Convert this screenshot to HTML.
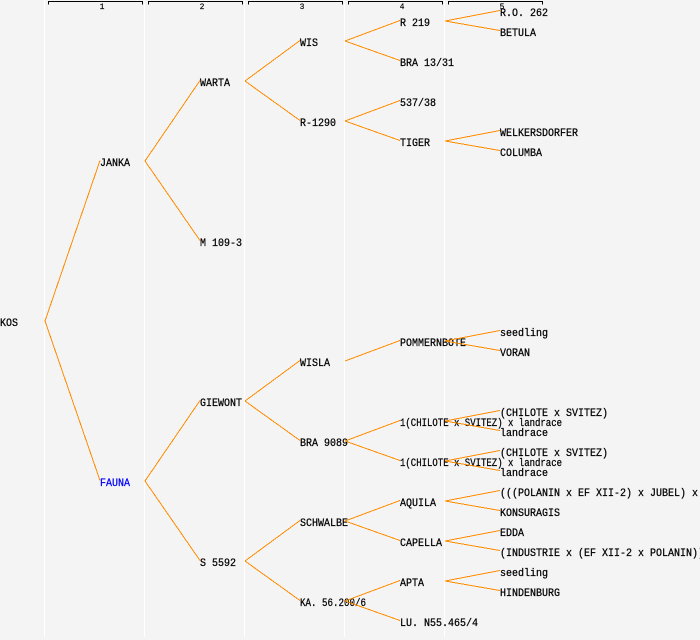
<!DOCTYPE html>
<html><head><meta charset="utf-8">
<style>
html,body{margin:0;padding:0;background:#f4f4f4;}
svg{display:block;}
text{font-family:"Liberation Mono",monospace;font-size:11px;fill:#000;stroke:#000;stroke-width:0.25px;}
.h{font-size:8px;text-anchor:middle;stroke-width:0.15px;}
</style></head>
<body>
<svg width="700" height="640" viewBox="0 0 700 640" xmlns="http://www.w3.org/2000/svg">
<rect x="0" y="0" width="700" height="640" fill="#f4f4f4"/>
<g fill="#ffffff">
<rect x="44" y="0" width="1" height="637"/>
<rect x="144" y="0" width="1" height="637"/>
<rect x="244" y="0" width="1" height="637"/>
<rect x="344" y="0" width="1" height="637"/>
<rect x="444" y="0" width="1" height="637"/>
</g>
<g stroke="#000" stroke-width="1" fill="none" shape-rendering="crispEdges">
<path d="M48.5 4.5V1.5H142.5V4.5"/>
<path d="M148.5 4.5V1.5H242.5V4.5"/>
<path d="M248.5 4.5V1.5H342.5V4.5"/>
<path d="M348.5 4.5V1.5H442.5V4.5"/>
<path d="M448.5 4.5V1.5H542.5V4.5"/>
</g>
<text class="h" x="102" y="9">1</text>
<text class="h" x="202" y="9">2</text>
<text class="h" x="302" y="9">3</text>
<text class="h" x="402" y="9">4</text>
<text class="h" x="502" y="9">5</text>

<g>
<text x="0" y="326" textLength="18" lengthAdjust="spacingAndGlyphs">KOS</text>
<text x="100" y="166" textLength="30" lengthAdjust="spacingAndGlyphs">JANKA</text>
<text x="100" y="486" textLength="30" lengthAdjust="spacingAndGlyphs" style="fill:#0000ff;stroke:#0000ff">FAUNA</text>
<text x="200" y="86" textLength="30" lengthAdjust="spacingAndGlyphs">WARTA</text>
<text x="200" y="246" textLength="42" lengthAdjust="spacingAndGlyphs">M 109-3</text>
<text x="200" y="406" textLength="42" lengthAdjust="spacingAndGlyphs">GIEWONT</text>
<text x="200" y="566" textLength="36" lengthAdjust="spacingAndGlyphs">S 5592</text>
<text x="300" y="46" textLength="18" lengthAdjust="spacingAndGlyphs">WIS</text>
<text x="300" y="126" textLength="36" lengthAdjust="spacingAndGlyphs">R-1290</text>
<text x="300" y="366" textLength="30" lengthAdjust="spacingAndGlyphs">WISLA</text>
<text x="300" y="446" textLength="48" lengthAdjust="spacingAndGlyphs">BRA 9089</text>
<text x="300" y="526" textLength="48" lengthAdjust="spacingAndGlyphs">SCHWALBE</text>
<text x="300" y="606" textLength="66" lengthAdjust="spacingAndGlyphs">KA. 56.200/6</text>
<text x="400" y="26" textLength="30" lengthAdjust="spacingAndGlyphs">R 219</text>
<text x="400" y="66" textLength="54" lengthAdjust="spacingAndGlyphs">BRA 13/31</text>
<text x="400" y="106" textLength="36" lengthAdjust="spacingAndGlyphs">537/38</text>
<text x="400" y="146" textLength="30" lengthAdjust="spacingAndGlyphs">TIGER</text>
<text x="400" y="346" textLength="66" lengthAdjust="spacingAndGlyphs">POMMERNBOTE</text>
<text x="400" y="426" textLength="162" lengthAdjust="spacingAndGlyphs">1(CHILOTE x SVITEZ) x landrace</text>
<text x="400" y="466" textLength="162" lengthAdjust="spacingAndGlyphs">1(CHILOTE x SVITEZ) x landrace</text>
<text x="400" y="506" textLength="36" lengthAdjust="spacingAndGlyphs">AQUILA</text>
<text x="400" y="546" textLength="42" lengthAdjust="spacingAndGlyphs">CAPELLA</text>
<text x="400" y="586" textLength="24" lengthAdjust="spacingAndGlyphs">APTA</text>
<text x="400" y="626" textLength="78" lengthAdjust="spacingAndGlyphs">LU. N55.465/4</text>
<text x="500" y="16" textLength="48" lengthAdjust="spacingAndGlyphs">R.O. 262</text>
<text x="500" y="36" textLength="36" lengthAdjust="spacingAndGlyphs">BETULA</text>
<text x="500" y="136" textLength="78" lengthAdjust="spacingAndGlyphs">WELKERSDORFER</text>
<text x="500" y="156" textLength="42" lengthAdjust="spacingAndGlyphs">COLUMBA</text>
<text x="500" y="336" textLength="48" lengthAdjust="spacingAndGlyphs">seedling</text>
<text x="500" y="356" textLength="30" lengthAdjust="spacingAndGlyphs">VORAN</text>
<text x="500" y="416" textLength="108" lengthAdjust="spacingAndGlyphs">(CHILOTE x SVITEZ)</text>
<text x="500" y="436" textLength="48" lengthAdjust="spacingAndGlyphs">landrace</text>
<text x="500" y="456" textLength="108" lengthAdjust="spacingAndGlyphs">(CHILOTE x SVITEZ)</text>
<text x="500" y="476" textLength="48" lengthAdjust="spacingAndGlyphs">landrace</text>
<text x="500" y="496" textLength="216" lengthAdjust="spacingAndGlyphs">(((POLANIN x EF XII-2) x JUBEL) x DC</text>
<text x="500" y="516" textLength="60" lengthAdjust="spacingAndGlyphs">KONSURAGIS</text>
<text x="500" y="536" textLength="24" lengthAdjust="spacingAndGlyphs">EDDA</text>
<text x="500" y="556" textLength="216" lengthAdjust="spacingAndGlyphs">(INDUSTRIE x (EF XII-2 x POLANIN)) x</text>
<text x="500" y="576" textLength="48" lengthAdjust="spacingAndGlyphs">seedling</text>
<text x="500" y="596" textLength="60" lengthAdjust="spacingAndGlyphs">HINDENBURG</text>
</g>

<g stroke="#ff8c00" stroke-width="1" fill="none" shape-rendering="crispEdges">
<line x1="45" y1="321" x2="100" y2="160.5"/>
<line x1="45" y1="321" x2="100" y2="480.5"/>
<line x1="145" y1="161" x2="200" y2="80.5"/>
<line x1="145" y1="161" x2="200" y2="240.5"/>
<line x1="145" y1="481" x2="200" y2="400.5"/>
<line x1="145" y1="481" x2="200" y2="560.5"/>
<line x1="245" y1="81" x2="300" y2="40.5"/>
<line x1="245" y1="81" x2="300" y2="120.5"/>
<line x1="245" y1="401" x2="300" y2="360.5"/>
<line x1="245" y1="401" x2="300" y2="440.5"/>
<line x1="245" y1="561" x2="300" y2="520.5"/>
<line x1="245" y1="561" x2="300" y2="600.5"/>
<line x1="345" y1="41" x2="400" y2="20.5"/>
<line x1="345" y1="41" x2="400" y2="60.5"/>
<line x1="345" y1="121" x2="400" y2="100.5"/>
<line x1="345" y1="121" x2="400" y2="140.5"/>
<line x1="345" y1="361" x2="400" y2="340.5"/>
<line x1="345" y1="441" x2="400" y2="420.5"/>
<line x1="345" y1="441" x2="400" y2="460.5"/>
<line x1="345" y1="521" x2="400" y2="500.5"/>
<line x1="345" y1="521" x2="400" y2="540.5"/>
<line x1="345" y1="601" x2="400" y2="580.5"/>
<line x1="345" y1="601" x2="400" y2="620.5"/>
<line x1="445" y1="21" x2="500" y2="10.5"/>
<line x1="445" y1="21" x2="500" y2="30.5"/>
<line x1="445" y1="141" x2="500" y2="130.5"/>
<line x1="445" y1="141" x2="500" y2="150.5"/>
<line x1="445" y1="341" x2="500" y2="330.5"/>
<line x1="445" y1="341" x2="500" y2="350.5"/>
<line x1="445" y1="421" x2="500" y2="410.5"/>
<line x1="445" y1="421" x2="500" y2="430.5"/>
<line x1="445" y1="461" x2="500" y2="450.5"/>
<line x1="445" y1="461" x2="500" y2="470.5"/>
<line x1="445" y1="501" x2="500" y2="490.5"/>
<line x1="445" y1="501" x2="500" y2="510.5"/>
<line x1="445" y1="541" x2="500" y2="530.5"/>
<line x1="445" y1="541" x2="500" y2="550.5"/>
<line x1="445" y1="581" x2="500" y2="570.5"/>
<line x1="445" y1="581" x2="500" y2="590.5"/>
</g>
</svg>
</body></html>
